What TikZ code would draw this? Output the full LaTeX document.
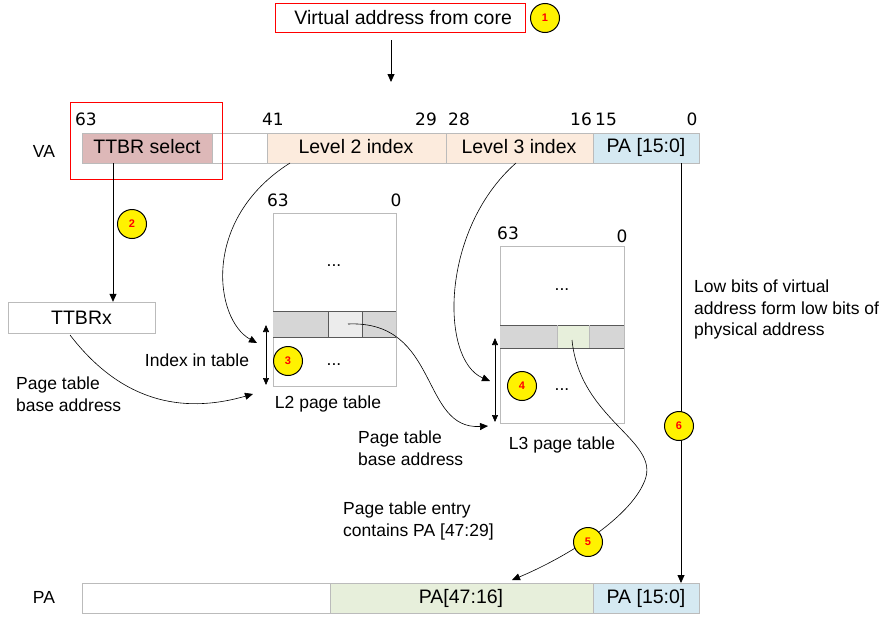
\documentclass[tikz,border=0pt]{standalone}
\usepackage{fontspec}
\setmainfont{Liberation Sans}
\newfontfamily\bitfont{DejaVu Sans}
\usetikzlibrary{arrows.meta}
\definecolor{ttbr}{HTML}{DDB8B8}
\definecolor{lvl}{HTML}{FCEBDD}
\definecolor{pal}{HTML}{D5E9F2}
\definecolor{pah}{HTML}{E7EFDB}
\definecolor{grid}{HTML}{BBBBBB}
\definecolor{rowc}{HTML}{D6D6D6}
\begin{document}
\begin{tikzpicture}[x=1pt,y=-1pt,
  txt/.style={font=\fontsize{17.5}{21.5}\selectfont,inner sep=0pt},
  big/.style={font=\fontsize{19.5}{22}\selectfont,inner sep=0pt},
  bit/.style={font=\bitfont\fontsize{17}{20}\selectfont,inner sep=0pt},
  num/.style={circle,draw=black,line width=1pt,fill=yellow,minimum size=29pt,inner sep=0pt,font=\fontsize{11}{11}\selectfont\bfseries,text=red},
  arr/.style={-{Triangle[length=8pt,width=7pt]},line width=0.8pt},
  crv/.style={-{Triangle[length=8pt,width=7pt]},line width=0.6pt}]
\useasboundingbox (0,0) rectangle (886,621);
% top
\node[draw=red,minimum width=250pt,minimum height=29pt,inner sep=0pt,font=\fontsize{19.5}{22}\selectfont,anchor=west] (core) at (275,17.5) {\hspace{6pt}Virtual address from core\hspace{28pt}};
\node[num] (n1) at (545,18) {1};
\coordinate (vtop) at (391,82);
\draw[arr] (391,40) -- (vtop);
% VA bar
\node[txt] (va) at (44,151) {VA};
\fill[ttbr] (82,133) rectangle (212,163);
\fill[lvl] (267,133) rectangle (593,163);
\fill[pal] (593,133) rectangle (699,163);
\draw[grid,line width=0.6pt] (82,133) rectangle (699,163);
\foreach \x in {212,267,446,593} \draw[grid,line width=0.6pt] (\x,133) -- (\x,163);
\node[big] (ttbrs) at (147,147) {TTBR select};
\node[big] (l2i) at (356,147) {Level 2 index};
\node[big] (l3i) at (519,147) {Level 3 index};
\node[big] (palo) at (646,147) {PA [15:0]};
\draw[red,line width=0.7pt] (70,102) rectangle (222,179);
\foreach \t/\x in {63/86,41/273,29/426,28/459,16/581,15/606,0/692} \node[bit] at (\x,119) {\t};
% TTBRx
\node[draw=grid,minimum width=147pt,minimum height=31pt,inner sep=0pt,font=\fontsize{19.5}{22}\selectfont] (ttbrx) at (81.5,317.5) {TTBRx};
\draw[arr] (113,163) -- (ttbrx.north -| 113,0);
\node[num] (n2) at (132,224) {2};
% L2 table
\draw[grid,line width=0.6pt] (273,213) rectangle (396,386);
\fill[rowc] (273,311) rectangle (396,337);
\fill[gray!15] (328,311) rectangle (362,337);
\draw[gray!70!black,line width=0.6pt] (273,311) -- (396,311) (273,337) -- (396,337) (328,311) -- (328,337) (362,311) -- (362,337);
\node[bit] at (278,200) {63};
\node[bit] at (396,200) {0};
\node[txt] at (334,266) {...};
\node[txt] at (334,365) {...};
\node[txt] (l2lab) at (328,404) {L2 page table};
\node[num] (n3) at (288,361) {3};
\draw[{Triangle[length=7pt,width=6pt]}-{Triangle[length=7pt,width=6pt]},line width=0.7pt] (266,325) -- (266,385);
\node[txt] (idx) at (197,360) {Index in table};
\node[txt,align=left,anchor=north west] (ptb1) at (16,377) {Page table\\base address};
% L3 table
\draw[grid,line width=0.6pt] (500,246) rectangle (624,423);
\fill[rowc] (500,325) rectangle (624,348);
\fill[pah] (557,325) rectangle (589,348);
\draw[gray!70!black,line width=0.6pt] (500,325) -- (624,325) (500,348) -- (624,348);
\draw[grid,line width=0.6pt] (557,325) -- (557,348) (589,325) -- (589,348);
\node[bit] at (508,233) {63};
\node[bit] at (622,236) {0};
\node[txt] at (562,290) {...};
\node[txt] at (562,390) {...};
\node[txt] (l3lab) at (562,445) {L3 page table};
\node[num] (n4) at (522,386) {4};
\draw[{Triangle[length=7pt,width=6pt]}-{Triangle[length=7pt,width=6pt]},line width=0.7pt] (495,338) -- (495,422);
\node[txt,align=left,anchor=north west] (ptb2) at (358,431) {Page table\\base address};
% curves
\coordinate (c1) at (253,394);
\draw[crv] (70,335) .. controls (120,400) and (180,415) .. (c1);
\coordinate (c2) at (257,343);
\draw[crv] (290,163) .. controls (200,220) and (215,320) .. (c2);
\coordinate (c3) at (490,381);
\draw[crv] (516,163) .. controls (440,230) and (440,360) .. (c3);
\coordinate (c4) at (488,426);
\draw[crv] (348,324) .. controls (440,320) and (420,430) .. (c4);
\coordinate (c5) at (512,580);
\draw[crv] (572,340) .. controls (580,420) and (660,440) .. (645,480) .. controls (630,520) and (560,560) .. (c5);
\node[num] (n5) at (588,542) {5};
\node[txt,align=left,anchor=north west] (pte) at (343,502) {Page table entry\\contains PA [47:29]};
% low bits
\coordinate (c6) at (681,583);
\draw[arr] (681,163) -- (c6);
\node[num] (n6) at (679,426) {6};
\node[txt,align=left,anchor=north west] (low) at (694,280) {Low bits of virtual\\address form low bits of\\physical address};
% PA bar
\node[txt] (pa) at (44,597) {PA};
\fill[pah] (330,583) rectangle (593,613);
\fill[pal] (593,583) rectangle (699,613);
\draw[grid,line width=0.6pt] (82,583) rectangle (699,613);
\foreach \x in {330,593} \draw[grid,line width=0.6pt] (\x,583) -- (\x,613);
\node[big] (pahi) at (461,598) {PA[47:16]};
\node[big] (palo2) at (646,598) {PA [15:0]};
\end{tikzpicture}
\end{document}
